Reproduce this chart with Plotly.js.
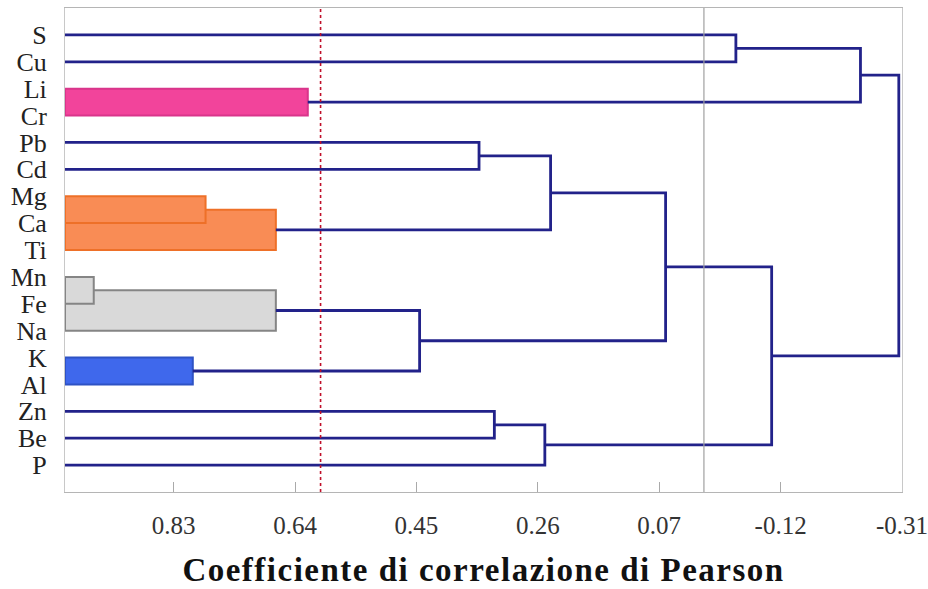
<!DOCTYPE html>
<html>
<head>
<meta charset="utf-8">
<script src="https://cdn.plot.ly/plotly-3.0.1.min.js"></script>
<style>
html,body{margin:0;padding:0;background:#fff;}
#chart{width:928px;height:589px;}
#chart .g-xtitle text{letter-spacing:1.5px;}
</style>
</head>
<body>
<div id="chart"></div>
<script>
// Leaves (top to bottom)
const leaves = ['S','Cu','Li','Cr','Pb','Cd','Mg','Ca','Ti','Mn','Fe','Na','K','Al','Zn','Be','P'];
// Merges: id, left child, right child, correlation level
const mergeIds    = ['m1','m2','m3','m4','m5','m6','m7','m8','m9','m10','m11','m12','m13','m14','m15','m16'];
const mergeLeft   = ['S','Li','m1','Pb','Mg','m5','m4','Mn','m8','K','m9','m7','Zn','m13','m12','m3'];
const mergeRight  = ['Cu','Cr','m2','Cd','Ca','Ti','m6','Fe','Na','Al','m10','m11','Be','P','m14','m15'];
const mergeHeight = [-0.05,0.62,-0.245,0.352,0.78,0.67,0.24,0.955,0.67,0.80,0.445,0.06,0.328,0.249,-0.106,-0.305];
// Coloured groups (filled clusters)
const mergeGroup  = ['', 'pink','', '', 'orange','orange','', 'gray','gray','blue','', '', '', '', '', ''];
const xTickVals = [0.83,0.64,0.45,0.26,0.07,-0.12,-0.31];
const xTickText = ['0.83','0.64','0.45','0.26','0.07','-0.12','-0.31'];
const cutLevel = 0.6;
const zeroLevel = 0;
const xTitle = 'Coefficiente di correlazione di Pearson';

const groupStyle = {
  pink:   {fill:'#F2449B', line:'#D9358B'},
  orange: {fill:'#F98C55', line:'#EE7028'},
  gray:   {fill:'#D9D9D9', line:'#858585'},
  blue:   {fill:'#3F68EC', line:'#2E52C4'}
};
const leafLevel = 1.0;

// positions
const pos = {};
leaves.forEach((l,i)=>{ pos[l] = {x: leafLevel, y: i}; });
mergeIds.forEach((id,k)=>{
  const a = pos[mergeLeft[k]], b = pos[mergeRight[k]];
  pos[id] = {x: mergeHeight[k], y: (a.y + b.y)/2};
});

const lx = [], ly = [];
const fills = [];
mergeIds.forEach((id,k)=>{
  const a = pos[mergeLeft[k]], b = pos[mergeRight[k]], h = mergeHeight[k];
  if (mergeGroup[k]) {
    fills.push({k, a, b, h});
  } else {
    lx.push(a.x, h, h, b.x, null);
    ly.push(a.y, a.y, b.y, b.y, null);
  }
});
fills.sort((p,q)=>p.h - q.h);
const traces = [];
fills.forEach(f=>{
  const st = groupStyle[mergeGroup[f.k]];
  traces.push({
    type:'scatter', mode:'lines', fill:'toself', fillcolor: st.fill,
    x:[leafLevel, f.h, f.h, leafLevel, leafLevel],
    y:[f.a.y, f.a.y, f.b.y, f.b.y, f.a.y],
    line:{color: st.line, width:2}, hoverinfo:'skip', showlegend:false
  });
});
traces.push({
  type:'scatter', mode:'lines', x:lx, y:ly,
  line:{color:'#22228A', width:2.8}, hoverinfo:'skip', showlegend:false
});

const layout = {
  width:928, height:589,
  margin:{l:65, r:26, t:8, b:97},
  paper_bgcolor:'#fff', plot_bgcolor:'#fff',
  showlegend:false,
  font:{family:'"Liberation Serif", serif', color:'#222'},
  xaxis:{
    range:[1.0,-0.31], tickvals:xTickVals, ticktext:xTickText,
    ticks:'inside', ticklen:10, tickcolor:'#aaa', tickwidth:1,
    showgrid:false, zeroline:false,
    showline:true, linecolor:'#b5b5b5', linewidth:1, mirror:true,
    tickfont:{size:25, color:'#333'}, ticklabelstandoff:11, ticklabeloverflow:'allow',
    title:{text:xTitle, font:{size:33, color:'#111', weight:'bold'}, standoff:19}
  },
  yaxis:{
    range:[17,-1], tickvals:leaves.map((_,i)=>i), ticktext:leaves,
    ticks:'outside', ticklen:12, tickcolor:'rgba(0,0,0,0)',
    showgrid:false, zeroline:false,
    showline:true, linecolor:'#c8c8c8', linewidth:1, mirror:true,
    tickfont:{size:26, color:'#222'}
  },
  shapes:[
    {type:'line', xref:'x', yref:'paper', x0:zeroLevel, x1:zeroLevel, y0:0, y1:1,
     line:{color:'#a0a0a0', width:1.2}, layer:'above'},
    {type:'line', xref:'x', yref:'paper', x0:cutLevel, x1:cutLevel, y0:0, y1:1,
     line:{color:'#C0102A', width:1.6, dash:'dot'}, layer:'above'}
  ]
};
Plotly.newPlot('chart', traces, layout, {staticPlot:true, displayModeBar:false});
</script>
</body>
</html>
